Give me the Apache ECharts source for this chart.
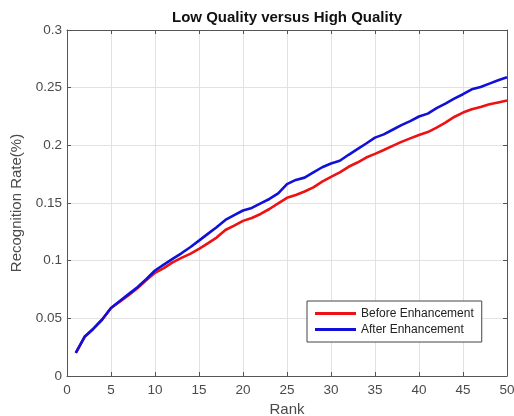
<!DOCTYPE html>
<html>
<head>
<meta charset="utf-8">
<script src="https://cdn.jsdelivr.net/npm/echarts@6/dist/echarts.min.js"></script>
<style>html,body{margin:0;padding:0;background:#fff;overflow:hidden}#c{width:514px;height:416px}</style>
</head>
<body>
<div id="c"></div>
<script>
const ranks = [1,2,3,4,5,6,7,8,9,10,11,12,13,14,15,16,17,18,19,20,21,22,23,24,25,26,27,28,29,30,31,32,33,34,35,36,37,38,39,40,41,42,43,44,45,46,47,48,49,50];
const before = [0.020,0.034,0.041,0.049,0.059,0.0645,0.070,0.076,0.083,0.0895,0.0935,0.0985,0.1024,0.1059,0.1102,0.115,0.120,0.1266,0.1304,0.1345,0.137,0.1405,0.1448,0.1497,0.1545,0.157,0.160,0.1635,0.1685,0.1727,0.1765,0.1814,0.1851,0.1894,0.1926,0.196,0.1995,0.203,0.206,0.209,0.2115,0.2154,0.2197,0.2246,0.2284,0.2313,0.2333,0.2356,0.2372,0.2388];
const after = [0.020,0.034,0.041,0.049,0.059,0.065,0.071,0.077,0.084,0.0915,0.0966,0.1015,0.1064,0.1116,0.1174,0.1232,0.129,0.1353,0.1395,0.1435,0.1457,0.1497,0.1535,0.1583,0.1664,0.170,0.172,0.1765,0.181,0.1842,0.1866,0.1918,0.1967,0.2016,0.2067,0.2095,0.2135,0.2175,0.221,0.225,0.2275,0.2322,0.2362,0.2405,0.2443,0.2486,0.2506,0.2535,0.2564,0.2590];
const xTicks = {min: 0, max: 50, interval: 5};
const yTicks = {min: 0, max: 0.3, interval: 0.05};

const chart = echarts.init(document.getElementById('c'), null, {renderer: 'canvas'});
const axisCol = '#555';
const labelCol = '#4a4a4a';
const font = 'Liberation Sans, Arial, Helvetica, sans-serif';
chart.setOption({
  animation: false,
  backgroundColor: '#fff',
  title: {
    text: 'Low Quality versus High Quality',
    left: 282, top: 5, textAlign: 'center',
    textStyle: {fontFamily: font, fontSize: 15, fontWeight: 'bold', color: '#111'}
  },
  grid: {left: 67, right: 7, top: 30, bottom: 40, containLabel: false, outerBoundsMode: 'none', show: false},
  legend: {
    orient: 'vertical', left: 307, top: 301,
    data: [{name: 'Before Enhancement', icon: 'rect'}, {name: 'After Enhancement', icon: 'rect'}],
    backgroundColor: '#fff', borderColor: '#444', borderWidth: 1,
    padding: [6, 8, 6, 8], itemGap: 3, itemWidth: 41, itemHeight: 3,
    textStyle: {fontFamily: font, fontSize: 12, color: '#222', lineHeight: 13}
  },
  xAxis: [{
    type: 'value', min: xTicks.min, max: xTicks.max, interval: xTicks.interval,
    name: 'Rank', nameLocation: 'middle', nameGap: 25,
    nameTextStyle: {fontFamily: font, fontSize: 15, color: labelCol},
    axisLine: {show: true, onZero: false, lineStyle: {color: axisCol}},
    axisTick: {show: true, inside: true, length: 4, lineStyle: {color: axisCol}},
    axisLabel: {fontFamily: font, fontSize: 13.5, color: labelCol, margin: 7},
    splitLine: {show: true, lineStyle: {color: '#e2e2e2'}}
  }, {
    type: 'value', position: 'top', min: xTicks.min, max: xTicks.max, interval: xTicks.interval,
    axisLine: {show: true, onZero: false, lineStyle: {color: axisCol}},
    axisTick: {show: true, inside: true, length: 4, lineStyle: {color: axisCol}},
    axisLabel: {show: false}, splitLine: {show: false}
  }],
  yAxis: [{
    type: 'value', min: yTicks.min, max: yTicks.max, interval: yTicks.interval,
    name: 'Recognition Rate(%)', nameLocation: 'middle', nameGap: 31,
    nameTextStyle: {fontFamily: font, fontSize: 15, color: labelCol},
    axisLine: {show: true, onZero: false, lineStyle: {color: axisCol}},
    axisTick: {show: true, inside: true, length: 4, lineStyle: {color: axisCol}},
    axisLabel: {fontFamily: font, fontSize: 13.5, color: labelCol, margin: 5},
    splitLine: {show: true, lineStyle: {color: '#e2e2e2'}}
  }, {
    type: 'value', position: 'right', min: yTicks.min, max: yTicks.max, interval: yTicks.interval,
    axisLine: {show: true, onZero: false, lineStyle: {color: axisCol}},
    axisTick: {show: true, inside: true, length: 4, lineStyle: {color: axisCol}},
    axisLabel: {show: false}, splitLine: {show: false}
  }],
  series: [{
    name: 'Before Enhancement', type: 'line', symbol: 'none', smooth: false,
    data: ranks.map((r, i) => [r, before[i]]),
    lineStyle: {color: '#ee1111', width: 2.6}, itemStyle: {color: '#ee1111'}
  }, {
    name: 'After Enhancement', type: 'line', symbol: 'none', smooth: false,
    data: ranks.map((r, i) => [r, after[i]]),
    lineStyle: {color: '#1010d8', width: 2.6}, itemStyle: {color: '#1010d8'}
  }]
});
</script>
</body>
</html>
